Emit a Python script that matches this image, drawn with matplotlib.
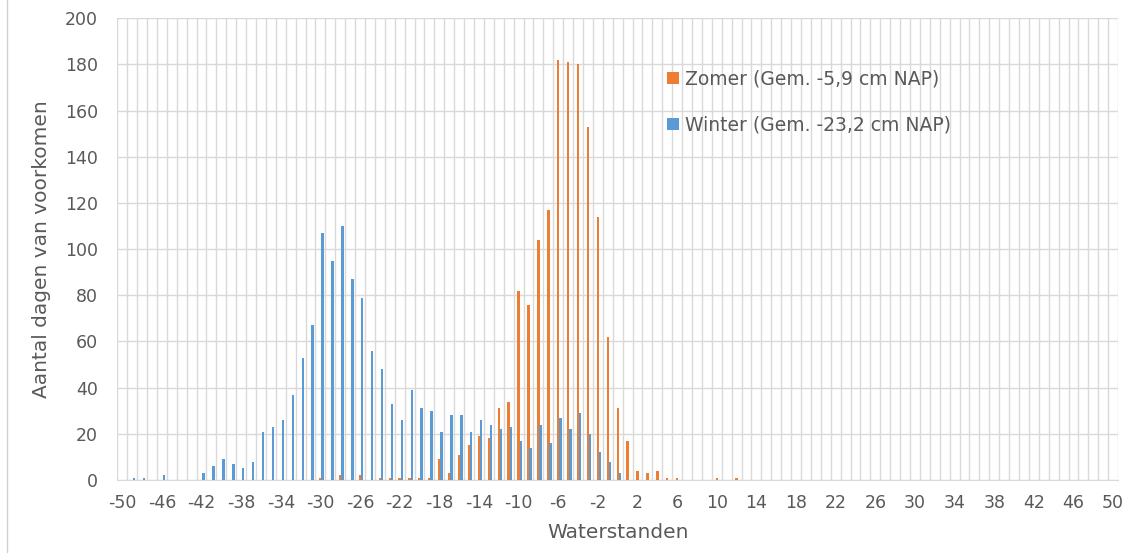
import matplotlib.pyplot as plt
import matplotlib.lines as mlines
import numpy as np

# water levels in cm relative to NAP, one category per cm
waterstanden = list(range(-50, 51))

zomer = ([0] * 20
         + [1, 0, 2, 0, 2, 0, 1, 1, 1, 1]
         + [1, 1, 9, 3, 11, 15, 19, 18, 31, 34]
         + [82, 76, 104, 117, 182, 181, 180, 153, 114, 62]
         + [31, 17, 4, 3, 4, 1, 1, 0, 0, 0]
         + [1, 0, 1, 0, 0, 0, 0, 0, 0, 0]
         + [0] * 31)

winter = ([0, 1, 1, 0, 2, 0, 0, 0, 3, 6]
          + [9, 7, 5, 8, 21, 23, 26, 37, 53, 67]
          + [107, 95, 110, 87, 79, 56, 48, 33, 26, 39]
          + [31, 30, 21, 28, 28, 21, 26, 24, 22, 23]
          + [17, 14, 24, 16, 27, 22, 29, 20, 12, 8]
          + [3]
          + [0] * 50)

labels = ['Zomer (Gem. -5,9 cm NAP)', 'Winter (Gem. -23,2 cm NAP)']
tick_labels = [str(v) for v in range(-50, 51, 4)]

oranje = '#ED7D31'
blauw = '#5B9BD5'
grijs = '#595959'
lijn = '#D9D9D9'

fig = plt.figure(figsize=(11.34, 5.53), dpi=100)
ax = fig.add_axes([0.1034, 0.132, 0.8826, 0.835])

x = np.array(waterstanden)
ax.bar(x, zomer, width=0.24, color=oranje, label=labels[0], zorder=3)
ax.bar(x + 0.22, winter, width=0.24, color=blauw, label=labels[1], zorder=3)

ax.set_xlim(-50.5, 50.5)
ax.set_ylim(0, 200)
ax.set_yticks(range(0, 201, 20))
ax.set_xticks(range(-50, 51, 4))
ax.set_xticklabels(tick_labels)
ax.set_xticks(np.arange(-50.5, 51, 1), minor=True)

ax.grid(which='major', axis='y', color=lijn, linewidth=1, zorder=0)
ax.grid(which='minor', axis='x', color=lijn, linewidth=1, zorder=0)

for side in ['top', 'right', 'left']:
    ax.spines[side].set_visible(False)
ax.spines['bottom'].set_color(lijn)

ax.tick_params(axis='both', which='both', length=0, colors=grijs, labelsize=12.5)
ax.tick_params(axis='y', pad=14)
ax.tick_params(axis='x', pad=10)

ax.set_xlabel('Waterstanden', fontsize=14.5, color=grijs, labelpad=8)
ax.set_ylabel('Aantal dagen van voorkomen', fontsize=14.5, color=grijs, labelpad=10)

leg = ax.legend(loc='upper left', bbox_to_anchor=(0.542, 0.905), frameon=False,
                fontsize=13.5, handlelength=0.65, handleheight=0.65,
                handletextpad=0.3, labelspacing=1.45, borderaxespad=0)
for t in leg.get_texts():
    t.set_color(grijs)

# thin border on the left edge of the figure
fig.add_artist(mlines.Line2D([7 / 1134, 7 / 1134], [0, 1], color='#D0D0D0', linewidth=1))

plt.savefig('out.png', dpi=100)
